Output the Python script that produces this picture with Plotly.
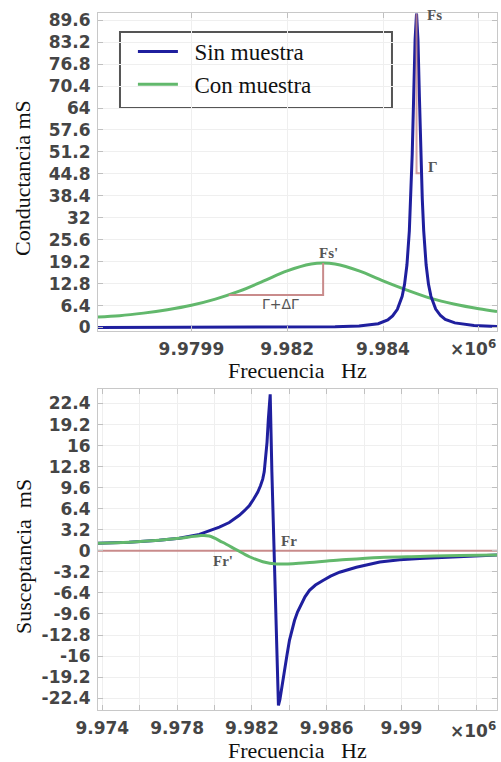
import plotly.graph_objects as go

# ---------------- data ----------------
# Top panel: conductance (mS) vs frequency (x1e6 Hz)
top_freq_sin = [9.97805, 9.98000, 9.98200, 9.98300, 9.98350, 9.98390, 9.98410, 9.98420,
                9.98430, 9.98440, 9.98445, 9.98450, 9.98455, 9.98458, 9.98461, 9.98464,
                9.98467, 9.98470, 9.98473, 9.98476, 9.98479, 9.98482, 9.98485, 9.98490,
                9.98495, 9.98500, 9.98510, 9.98520, 9.98530, 9.98550, 9.98590, 9.98638]
top_g_sin = [0.02, 0.04, 0.12, 0.25, 0.45, 1.1, 2.2, 3.4,
             5.3, 9.1, 12.6, 18.3, 28.2, 37.5, 50.6, 67.3,
             83.9, 91.5, 83.9, 67.3, 50.6, 37.5, 28.2, 18.3,
             12.6, 9.15, 5.4, 3.5, 2.4, 1.35, 0.6, 0.32]

top_freq_con = [9.97805, 9.97850, 9.97900, 9.97950, 9.98000, 9.98050, 9.98100, 9.98150,
                9.98200, 9.98250, 9.98275, 9.98300, 9.98350, 9.98400, 9.98450, 9.98500,
                9.98550, 9.98600, 9.98638]
top_g_con = [3.1, 3.45, 4.2, 5.2, 6.5, 8.3, 10.6, 13.5,
             16.5, 18.5, 18.8, 18.5, 16.5, 13.6, 10.9, 8.5,
             6.8, 5.5, 4.7]

# Markers in the top panel
fs_marker_freq = [9.98470, 9.98470, 9.98477]
fs_marker_g = [91.5, 45.0, 45.0]
fs2_marker_freq = [9.98275, 9.98275, 9.98078]
fs2_marker_g = [18.8, 9.5, 9.5]

top_ytick_vals = [0, 6.4, 12.8, 19.2, 25.6, 32, 38.4, 44.8, 51.2, 57.6, 64, 70.4, 76.8, 83.2, 89.6]
top_ytick_text = ["0", "6.4", "12.8", "19.2", "25.6", "32", "38.4", "44.8", "51.2", "57.6",
                  "64", "70.4", "76.8", "83.2", "89.6"]
top_xtick_vals = [9.980, 9.982, 9.984, 9.986]
top_xtick_text = ["9.9799", "9.982", "9.984", " "]

# Bottom panel: susceptance (mS) vs frequency (x1e6 Hz)
bot_freq_sin = [9.97377, 9.97543, 9.97704, 9.97811, 9.97919, 9.98026, 9.98079, 9.98133,
                9.98160, 9.98187, 9.98208, 9.98231, 9.98246, 9.98258, 9.98266, 9.98272,
                9.98281, 9.98288, 9.98294, 9.98298, 9.98307, 9.98321, 9.98334, 9.98342,
                9.98350, 9.98358, 9.98374, 9.98388, 9.98401, 9.98415, 9.98428, 9.98444,
                9.98464, 9.98484, 9.98508, 9.98540, 9.98580, 9.98621, 9.98669, 9.98759,
                9.98884, 9.98991, 9.99098, 9.99313, 9.99511]
bot_b_sin = [1.15, 1.3, 1.6, 1.9, 2.5, 3.6, 4.3, 5.4,
             6.1, 6.9, 7.8, 8.9, 9.9, 10.9, 12.0, 13.5,
             16.5, 20.0, 23.2, 23.8, 12.0, -2.0, -16.0, -23.5,
             -22.6, -21.0, -18.2, -15.8, -13.6, -12.0, -10.6, -9.3,
             -8.05, -7.0, -6.0, -5.2, -4.5, -3.85, -3.25, -2.5,
             -1.7, -1.35, -1.15, -0.85, -0.65]

bot_freq_con = [9.97377, 9.97543, 9.97704, 9.97811, 9.97919, 9.97972, 9.98043, 9.98115,
                9.98187, 9.98258, 9.98330, 9.98491, 9.98669, 9.98884, 9.99098, 9.99313,
                9.99511]
bot_b_con = [1.15, 1.3, 1.6, 1.9, 2.3, 2.25, 1.3, 0.2,
             -0.9, -1.65, -2.0, -1.8, -1.4, -1.0, -0.85, -0.72,
             -0.65]

zero_line_freq = [9.97377, 9.99511]
zero_line_b = [0, 0]

bot_ytick_vals = [22.4, 19.2, 16, 12.8, 9.6, 6.4, 3.2, 0, -3.2, -6.4, -9.6, -12.8, -16, -19.2, -22.4]
bot_ytick_text = ["22.4", "19.2", "16", "12.8", "9.6", "6.4", "3.2", "0", "-3.2", "-6.4",
                  "-9.6", "-12.8", "-16", "-19.2", "-22.4"]
bot_xtick_vals = [9.974, 9.976, 9.978, 9.980, 9.982, 9.984, 9.986, 9.988, 9.990, 9.992, 9.994]
bot_xtick_text = ["9.974", " ", "9.978", " ", "9.982", " ", "9.986", " ", "9.99", " ", " "]

# ---------------- styles ----------------
BLUE = "#1f1f9e"
GREEN = "#62b86c"
RED = "#c98b8b"
TICKFONT = dict(family="DejaVu Sans", size=17, color="#454545", weight="bold")
SERIF = "Liberation Serif"
LABELFONT = dict(family=SERIF, size=15, color="#555", weight="bold")

fig = go.Figure()

fig.add_trace(go.Scatter(x=top_freq_con, y=top_g_con, mode="lines", name="\u00a0\u00a0Con muestra",
                         line=dict(color=GREEN, width=3, shape="spline"),
                         xaxis="x", yaxis="y", legendrank=2))
fig.add_trace(go.Scatter(x=fs2_marker_freq, y=fs2_marker_g, mode="lines", showlegend=False,
                         line=dict(color=RED, width=2), xaxis="x", yaxis="y"))
fig.add_trace(go.Scatter(x=top_freq_sin, y=top_g_sin, mode="lines", name="\u00a0\u00a0Sin muestra",
                         line=dict(color=BLUE, width=3), xaxis="x", yaxis="y", legendrank=1))
fig.add_trace(go.Scatter(x=fs_marker_freq, y=fs_marker_g, mode="lines", showlegend=False,
                         line=dict(color=RED, width=2), opacity=0.8, xaxis="x", yaxis="y"))

fig.add_trace(go.Scatter(x=zero_line_freq, y=zero_line_b, mode="lines", showlegend=False,
                         line=dict(color=RED, width=2), xaxis="x2", yaxis="y2"))
fig.add_trace(go.Scatter(x=bot_freq_sin, y=bot_b_sin, mode="lines", showlegend=False,
                         line=dict(color=BLUE, width=3), xaxis="x2", yaxis="y2"))
fig.add_trace(go.Scatter(x=bot_freq_con, y=bot_b_con, mode="lines", showlegend=False,
                         line=dict(color=GREEN, width=3, shape="spline"), xaxis="x2", yaxis="y2"))

axis_common = dict(showline=True, linecolor="#c8c8c8", linewidth=1, mirror="ticks",
                   ticks="inside", ticklen=5, tickcolor="#c0c0c0",
                   showgrid=True, gridcolor="#efefef", zeroline=False,
                   tickfont=TICKFONT, ticklabelstandoff=3, automargin=False)

fig.update_layout(
    width=501, height=762,
    margin=dict(l=98, r=4, t=13, b=52),
    paper_bgcolor="white", plot_bgcolor="white",
    xaxis=dict(domain=[0, 1], anchor="y", range=[9.97805, 9.98638],
               tickvals=top_xtick_vals, ticktext=top_xtick_text, **axis_common),
    yaxis=dict(domain=[0.5438, 1], anchor="x", range=[-1.0, 91.7],
               tickvals=top_ytick_vals, ticktext=top_ytick_text, **axis_common),
    xaxis2=dict(domain=[0, 1], anchor="y2", range=[9.97377, 9.99511],
                tickvals=bot_xtick_vals, ticktext=bot_xtick_text, **axis_common),
    yaxis2=dict(domain=[0, 0.4605], anchor="x2", range=[-24.2, 24.6],
                tickvals=bot_ytick_vals, ticktext=bot_ytick_text, **axis_common),
    legend=dict(x=0.0875, y=0.9757, xanchor="left", yanchor="top",
                bgcolor="rgba(0,0,0,0)", borderwidth=0,
                font=dict(family=SERIF, size=23, color="#111"),
                itemwidth=40, tracegroupgap=0),
    showlegend=True,
)

# legend frame
fig.add_shape(type="rect", xref="paper", yref="paper", x0=0.0551, x1=0.7368, y0=0.8637, y1=0.9727,
              line=dict(color="#555", width=2), fillcolor="white", layer="between")

TITLEFONT = dict(family=SERIF, size=22, color="#111")
annots = [
    dict(text="Conductancia mS", x=-0.188, y=0.7633, textangle=-90, font=TITLEFONT),
    dict(text="Frecuencia\u00a0\u00a0\u00a0Hz", x=0.5, y=0.4878, font=TITLEFONT),
    dict(text="Susceptancia\u00a0\u00a0mS", x=-0.188, y=0.2209, textangle=-90, font=TITLEFONT),
    dict(text="Frecuencia\u00a0\u00a0\u00a0Hz", x=0.5, y=-0.0574, font=TITLEFONT),
    dict(text="×10<sup>6</sup>", x=1.0025, y=0.5194, xanchor="right", font=TICKFONT),
    dict(text="×10<sup>6</sup>", x=1.0025, y=-0.0287, xanchor="right", font=TICKFONT),
]
for a in annots:
    a.setdefault("xanchor", "center")
    a.update(xref="paper", yref="paper", yanchor="middle", showarrow=False)

data_labels = [
    dict(text="Fs", x=fs_marker_freq[0], y=91.1, xref="x", yref="y", xanchor="left", xshift=8),
    dict(text="Γ", x=fs_marker_freq[0], y=46.8, xref="x", yref="y", xanchor="left", xshift=9),
    dict(text="Fs'", x=fs2_marker_freq[0], y=21.7, xref="x", yref="y", xanchor="center", xshift=5),
    dict(text="Fr", x=9.98401, y=1.5, xref="x2", yref="y2", xanchor="center"),
    dict(text="Fr'", x=9.98047, y=-1.6, xref="x2", yref="y2", xanchor="center"),
]
for a in data_labels:
    a.update(font=LABELFONT, yanchor="middle", showarrow=False)

gamma_label = dict(text="Γ+ΔΓ", x=9.98186, y=7.0, xref="x", yref="y", xanchor="center",
                   yanchor="middle", showarrow=False,
                   font=dict(family="DejaVu Sans", size=14, color="#555"))

fig.update_layout(annotations=annots + data_labels + [gamma_label])

fig.write_html("out.html",
               config={"displayModeBar": False},
               post_script="document.body.style.margin='0';document.body.style.overflow='hidden';")
